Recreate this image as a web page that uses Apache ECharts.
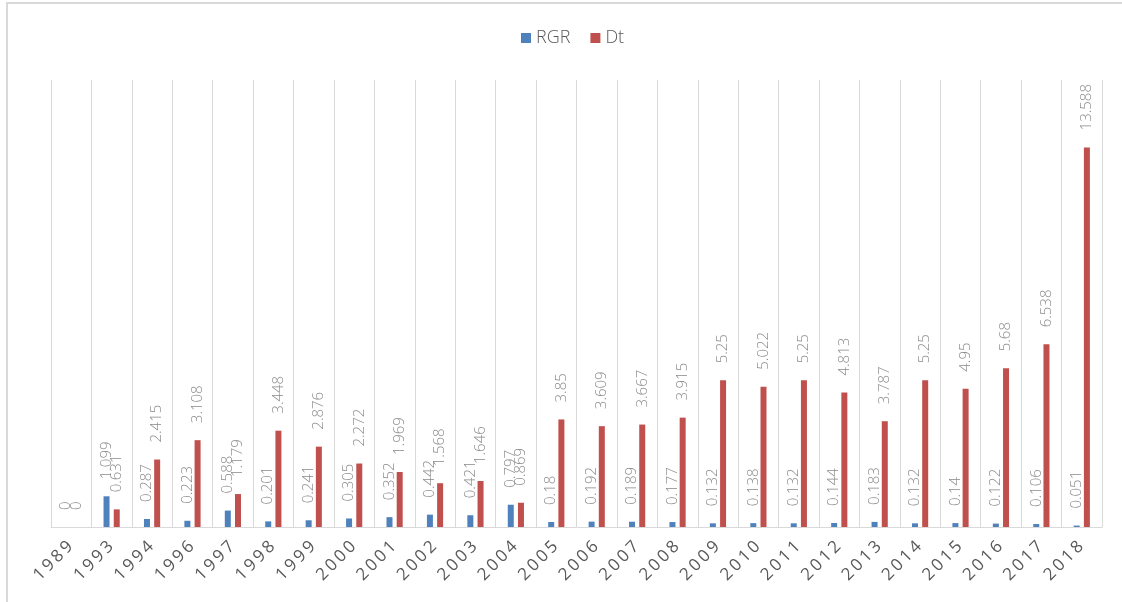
<!DOCTYPE html>
<html>
<head>
<meta charset="utf-8">
<script src="https://cdn.jsdelivr.net/npm/echarts@6/dist/echarts.min.js"></script>
<style>html,body{margin:0;padding:0;background:#fff}#c{width:1122px;height:602px}</style>
</head>
<body>
<div id="c"></div>
<script>
const categories = ['1989','1993','1994','1996','1997','1998','1999','2000','2001','2002','2003','2004','2005','2006','2007','2008','2009','2010','2011','2012','2013','2014','2015','2016','2017','2018'];
const rgr = [0,1.099,0.287,0.223,0.588,0.201,0.241,0.305,0.352,0.442,0.421,0.797,0.18,0.192,0.189,0.177,0.132,0.138,0.132,0.144,0.183,0.132,0.14,0.122,0.106,0.051];
const dt = [0,0.631,2.415,3.108,1.179,3.448,2.876,2.272,1.969,1.568,1.646,0.869,3.85,3.609,3.667,3.915,5.25,5.022,5.25,4.813,3.787,5.25,4.95,5.68,6.538,13.588];

const chart = echarts.init(document.getElementById('c'));
const labelCfg = {
  show: true, position: 'top', rotate: 90, align: 'left', verticalAlign: 'middle',
  distance: 17, color: '#8a8a8a', fontSize: 15, fontFamily: 'Open Sans', fontWeight: 300,
  formatter: p => String(p.value)
};
chart.setOption({
  animation: false,
  graphic: [{type:'rect', shape:{x:7,y:3,width:1300,height:800}, style:{fill:'none', stroke:'#d9d9d9', lineWidth:2}, z:-1}],
  legend: {
    left: 516, top: 24, itemWidth: 10, itemHeight: 10, itemGap: 20,
    icon: 'rect',
    textStyle: {color:'#595959', fontSize:18, fontFamily:'Open Sans', fontWeight:300},
    data: ['RGR','Dt']
  },
  grid: {left: 51, right: 20, top: 80, bottom: 75, containLabel: false},
  xAxis: {
    type: 'category', data: categories,
    axisLine: {show:true, lineStyle:{color:'#d9d9d9', width:1}},
    axisTick: {show:false},
    splitLine: {show:true, lineStyle:{color:'#d9d9d9', width:1}},
    axisLabel: {
      rotate:45, margin:16, color:'#595959', fontSize:17, fontFamily:'Open Sans', interval:0,
      formatter: v => v.split('').map(ch => '{d|' + ch + '}').join(''),
      rich: {d: {fontSize:17, fontFamily:'Open Sans', color:'#595959', padding:[0,1.5,0,1.5]}}
    }
  },
  yAxis: {
    type: 'value', min: 0, max: 16, show: false,
    splitLine: {show:false}
  },
  series: [
    {name:'RGR', type:'bar', data: rgr, barWidth: 6, barGap: '70%', itemStyle:{color:'#4F81BD'}, label: labelCfg},
    {name:'Dt', type:'bar', data: dt, barWidth: 6, barGap: '70%', itemStyle:{color:'#C0504D'}, label: labelCfg}
  ]
});
</script>
</body>
</html>
